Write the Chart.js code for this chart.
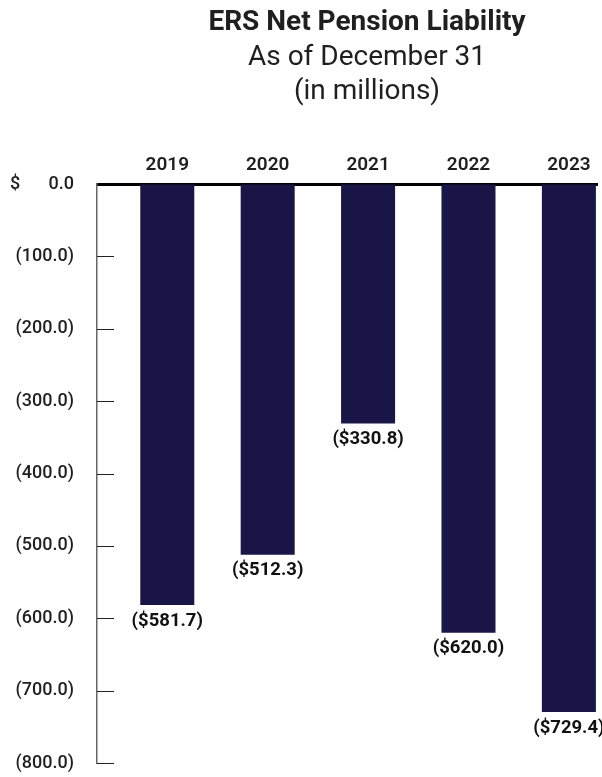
<!DOCTYPE html>
<html>
<head>
<meta charset="utf-8">
<script src="https://cdn.jsdelivr.net/npm/chart.js@4.4.1/dist/chart.umd.min.js"></script>
<style>
  html, body { margin: 0; padding: 0; background: #fff; }
  canvas { display: block; }
</style>
</head>
<body>
<canvas id="ersChart" width="602" height="777"></canvas>
<script>
// ─── data ─────────────────────────────────────────────
const years = ['2019', '2020', '2021', '2022', '2023'];
const netLiability = [-581.7, -512.3, -330.8, -620.0, -729.4];
const titleLines = ['ERS Net Pension Liability', 'As of December 31', '(in millions)'];

const INK = '#1f1f1f';
const BAR = '#1a1547';

const fmtTick = v => v === 0 ? '0.0' : '(' + Math.abs(v).toFixed(1) + ')';
const fmtValue = v => '($' + Math.abs(v).toFixed(1) + ')';

// title, "$" sign, inner tick marks and value labels
const extras = {
  id: 'extras',
  afterDraw(chart) {
    const { ctx, chartArea } = chart;
    const y = chart.scales.y;
    ctx.save();
    ctx.fillStyle = INK;
    ctx.textAlign = 'center';
    ctx.textBaseline = 'middle';
    ctx.font = 'bold 28px Roboto';
    ctx.fillText(titleLines[0], 367, 23);
    ctx.font = '28px Roboto';
    ctx.fillText(titleLines[1], 367, 58);
    ctx.fillText(titleLines[2], 367, 92);

    // "$" in front of the zero tick
    ctx.font = '500 18px Roboto';
    ctx.textAlign = 'left';
    ctx.fillText('$', 10, y.getPixelForValue(0));

    // tick marks pointing into the plot
    ctx.strokeStyle = '#222';
    ctx.lineWidth = 1;
    y.ticks.forEach(t => {
      if (t.value === 0) return;
      const py = Math.round(y.getPixelForValue(t.value)) + 0.5;
      ctx.beginPath();
      ctx.moveTo(chartArea.left, py);
      ctx.lineTo(chartArea.left + 17, py);
      ctx.stroke();
    });

    // value labels under each bar
    ctx.font = 'bold 18.5px Roboto';
    ctx.textAlign = 'center';
    ctx.fillStyle = '#111';
    chart.getDatasetMeta(0).data.forEach((bar, i) => {
      ctx.fillText(fmtValue(netLiability[i]), bar.x, bar.y + 16);
    });
    ctx.restore();
  }
};

new Chart(document.getElementById('ersChart'), {
  type: 'bar',
  data: {
    datasets: [{
      label: 'Net Pension Liability',
      data: netLiability.map((v, i) => ({ x: i, y: v })),
      backgroundColor: BAR,
      borderWidth: 0,
      categoryPercentage: 1,
      barPercentage: 0.538
    }]
  },
  options: {
    responsive: false,
    animation: false,
    layout: { padding: { top: 0, right: 5, bottom: 14, left: 0 } },
    plugins: { legend: { display: false }, tooltip: { enabled: false }, title: { display: false } },
    scales: {
      x: {
        type: 'linear',
        position: 'top',
        offset: false,
        min: -0.7,
        max: 4.28,
        afterFit: s => { s.height = 184; },
        afterBuildTicks: s => { s.ticks = years.map((_, i) => ({ value: i })); },
        ticks: {
          autoSkip: false,
          maxRotation: 0,
          padding: 7,
          color: INK,
          font: { family: 'Roboto', size: 19, weight: '600' },
          callback: v => years[v] ?? ''
        },
        grid: { offset: false, drawOnChartArea: false, drawTicks: false },
        border: { display: true, color: '#000', width: 3 }
      },
      y: {
        min: -800,
        max: 0,
        afterFit: s => { s.width = 97; s.paddingTop = 0; s.paddingBottom = 0; },
        ticks: {
          stepSize: 100,
          autoSkip: false,
          padding: 23,
          color: INK,
          font: { family: 'Roboto', size: 18, weight: '500' },
          callback: fmtTick
        },
        grid: { drawOnChartArea: false, drawTicks: false },
        border: { display: true, color: '#666', width: 1.5 }
      }
    }
  },
  plugins: [extras]
});
</script>
</body>
</html>
